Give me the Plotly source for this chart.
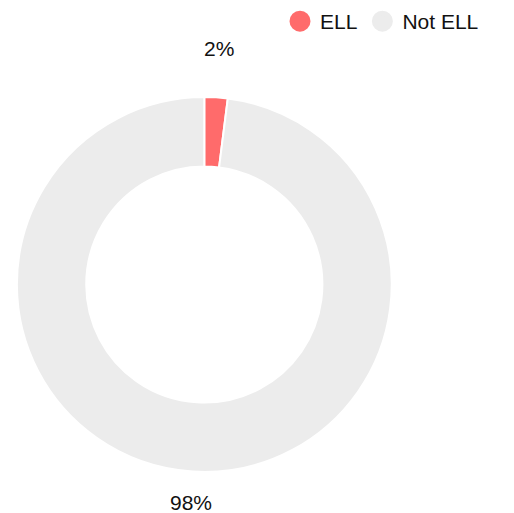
import math
import plotly.graph_objects as go

labels = ["ELL", "Not ELL"]
values = [2, 98]
colors = ["#ff6b6b", "#ececec"]

W, H = 514, 513
OFF = 8                              # page body margin offset of the plot div
cx, cy, R = 204.3 - OFF, 284.5 - OFF, 187.4   # pie centre / outer radius in px
label_radius = [236, 218]            # px from centre for the outside % labels

fig = go.Figure()
fig.add_trace(go.Pie(
    labels=labels, values=values, hole=0.63, sort=False, direction="clockwise",
    rotation=0, marker=dict(colors=colors, line=dict(color="white", width=2)),
    textinfo="none", hoverinfo="label+percent",
    showlegend=False,
    domain=dict(x=[(cx - R) / W, (cx + R) / W], y=[1 - (cy + R) / H, 1 - (cy - R) / H]),
))

total = sum(values)
cum = 0
for v, rl in zip(values, label_radius):
    mid = (cum + v / 2) / total * 2 * math.pi
    cum += v
    px = cx + rl * math.sin(mid)
    py = cy - rl * math.cos(mid)
    fig.add_annotation(x=px / W, y=1 - py / H, xref="paper", yref="paper",
                       xanchor="center", yanchor="middle",
                       text=f"{round(v / total * 100)}%", showarrow=False,
                       font=dict(size=21, color="#111"))

for lab, col in zip(labels, colors):
    fig.add_trace(go.Scatter(x=[None], y=[None], mode="markers", name=lab,
                             marker=dict(color=col, size=22, symbol="circle",
                                         line=dict(color=col, width=6))))
fig.update_layout(
    width=W, height=H, margin=dict(l=0, r=0, t=0, b=0, pad=0, autoexpand=False),
    paper_bgcolor="white", plot_bgcolor="white",
    font=dict(family="Liberation Sans, Arial, sans-serif", size=21, color="#111"),
    xaxis=dict(visible=False), yaxis=dict(visible=False),
    legend=dict(orientation="h", x=(299 - OFF - 19) / W, xanchor="left",
                y=1 + 7 / H, yanchor="top",
                font=dict(size=21), itemsizing="trace", itemwidth=30),
)
fig.write_html("out.html")
